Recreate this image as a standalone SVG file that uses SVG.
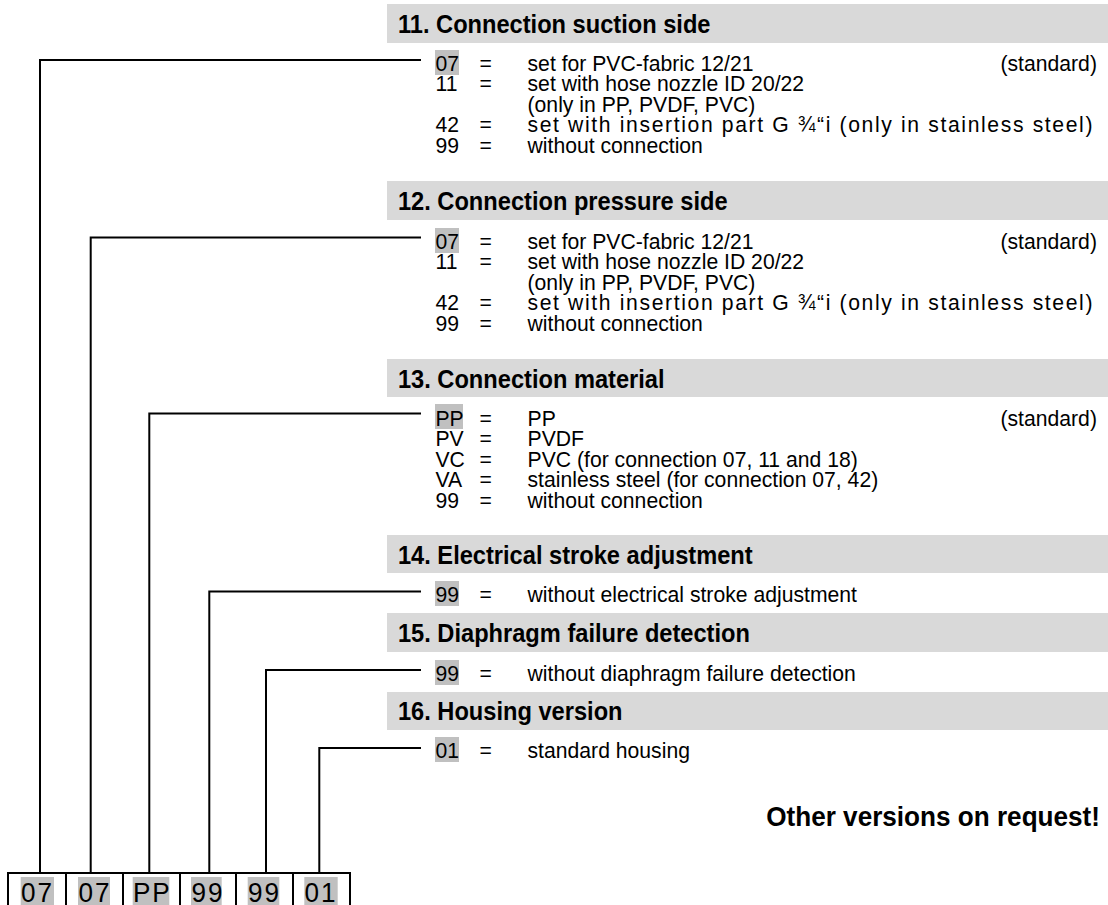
<svg xmlns="http://www.w3.org/2000/svg" width="1108" height="905" viewBox="0 0 1108 905">
<style>
text{font-family:"Liberation Sans",Arial,Helvetica,sans-serif;fill:#000}
.h{font-size:24.9px;font-weight:bold}
.t{font-size:22.3px}
.std{text-anchor:end}
.bar{fill:#d9d9d9}
.hl{fill:#c0c0c0}
.ln{fill:none;stroke:#000;stroke-width:2}
.code{font-size:27.5px;letter-spacing:2px}
.note{font-size:27.5px;font-weight:bold;text-anchor:end}
</style>
<rect width="1108" height="905" fill="#fff"/>

<g id="connectors" class="ln">
<path d="M421 60 H40 V873"/>
<path d="M421 237.5 H90.7 V873"/>
<path d="M421 413.5 H149.3 V873"/>
<path d="M421 591.5 H209.3 V873"/>
<path d="M421 670 H266 V873"/>
<path d="M421 748 H319.3 V873"/>
</g>

<g id="sec11">
<rect class="bar" x="387" y="4" width="721" height="39"/>
<rect class="hl" x="435" y="50" width="24" height="25"/>
<g transform="scale(0.95 1)">
<text class="h" x="418.9" y="33">11. Connection suction side</text>
<text class="t" x="458.4" y="71">07</text><text class="t" x="504.7" y="71">=</text><text class="t" x="555.3" y="71">set for PVC-fabric 12/21</text><text class="t std" x="1154.7" y="71">(standard)</text>
<text class="t" x="458.4" y="91.5">11</text><text class="t" x="504.7" y="91.5">=</text><text class="t" x="555.3" y="91.5">set with hose nozzle ID 20/22</text>
<text class="t" x="555.3" y="112">(only in PP, PVDF, PVC)</text>
<text class="t" x="458.4" y="132.5">42</text><text class="t" x="504.7" y="132.5">=</text><text class="t" x="555.3" y="132.5" textLength="594.7" lengthAdjust="spacing">set with insertion part G ¾“i (only in stainless steel)</text>
<text class="t" x="458.4" y="153">99</text><text class="t" x="504.7" y="153">=</text><text class="t" x="555.3" y="153">without connection</text>
</g>
</g>

<g id="sec12">
<rect class="bar" x="387" y="181" width="721" height="39"/>
<rect class="hl" x="435" y="228" width="24" height="25"/>
<g transform="scale(0.95 1)">
<text class="h" x="418.9" y="210">12. Connection pressure side</text>
<text class="t" x="458.4" y="249">07</text><text class="t" x="504.7" y="249">=</text><text class="t" x="555.3" y="249">set for PVC-fabric 12/21</text><text class="t std" x="1154.7" y="249">(standard)</text>
<text class="t" x="458.4" y="269.5">11</text><text class="t" x="504.7" y="269.5">=</text><text class="t" x="555.3" y="269.5">set with hose nozzle ID 20/22</text>
<text class="t" x="555.3" y="290">(only in PP, PVDF, PVC)</text>
<text class="t" x="458.4" y="310.5">42</text><text class="t" x="504.7" y="310.5">=</text><text class="t" x="555.3" y="310.5" textLength="594.7" lengthAdjust="spacing">set with insertion part G ¾“i (only in stainless steel)</text>
<text class="t" x="458.4" y="331">99</text><text class="t" x="504.7" y="331">=</text><text class="t" x="555.3" y="331">without connection</text>
</g>
</g>

<g id="sec13">
<rect class="bar" x="387" y="359" width="721" height="38"/>
<rect class="hl" x="435" y="404" width="28" height="25"/>
<g transform="scale(0.95 1)">
<text class="h" x="418.9" y="388">13. Connection material</text>
<text class="t" x="458.4" y="426">PP</text><text class="t" x="504.7" y="426">=</text><text class="t" x="555.3" y="426">PP</text><text class="t std" x="1154.7" y="426">(standard)</text>
<text class="t" x="458.4" y="446.5">PV</text><text class="t" x="504.7" y="446.5">=</text><text class="t" x="555.3" y="446.5">PVDF</text>
<text class="t" x="458.4" y="467">VC</text><text class="t" x="504.7" y="467">=</text><text class="t" x="555.3" y="467">PVC (for connection 07, 11 and 18)</text>
<text class="t" x="458.4" y="487.5">VA</text><text class="t" x="504.7" y="487.5">=</text><text class="t" x="555.3" y="487.5">stainless steel (for connection 07, 42)</text>
<text class="t" x="458.4" y="508">99</text><text class="t" x="504.7" y="508">=</text><text class="t" x="555.3" y="508">without connection</text>
</g>
</g>

<g id="sec14">
<rect class="bar" x="387" y="535" width="721" height="38"/>
<rect class="hl" x="435" y="581" width="24" height="25"/>
<g transform="scale(0.95 1)">
<text class="h" x="418.9" y="564">14. Electrical stroke adjustment</text>
<text class="t" x="458.4" y="602">99</text><text class="t" x="504.7" y="602">=</text><text class="t" x="555.3" y="602">without electrical stroke adjustment</text>
</g>
</g>

<g id="sec15">
<rect class="bar" x="387" y="613" width="721" height="39"/>
<rect class="hl" x="435" y="660" width="24" height="25"/>
<g transform="scale(0.95 1)">
<text class="h" x="418.9" y="642">15. Diaphragm failure detection</text>
<text class="t" x="458.4" y="681">99</text><text class="t" x="504.7" y="681">=</text><text class="t" x="555.3" y="681">without diaphragm failure detection</text>
</g>
</g>

<g id="sec16">
<rect class="bar" x="387" y="692" width="721" height="38"/>
<rect class="hl" x="435" y="737" width="24" height="25"/>
<g transform="scale(0.95 1)">
<text class="h" x="418.9" y="720">16. Housing version</text>
<text class="t" x="458.4" y="758">01</text><text class="t" x="504.7" y="758">=</text><text class="t" x="555.3" y="758">standard housing</text>
</g>
</g>

<g id="note">
<g transform="scale(0.95 1)">
<text class="note" x="1157.9" y="826">Other versions on request!</text>
</g>
</g>

<g id="codes">
<rect class="hl" x="20.7" y="877" width="33.3" height="30"/>
<rect class="hl" x="78" y="877" width="32" height="30"/>
<rect class="hl" x="132.7" y="877" width="36.6" height="30"/>
<rect class="hl" x="191" y="877" width="30.7" height="30"/>
<rect class="hl" x="247.7" y="877" width="31.6" height="30"/>
<rect class="hl" x="304.3" y="877" width="33.4" height="30"/>
<path class="ln" d="M8 906 V873 H350 V906 M66 873 V906 M123 873 V906 M180 873 V906 M236 873 V906 M293 873 V906"/>
<g transform="scale(0.95 1)">
<text class="code" x="22.1" y="902">07</text>
<text class="code" x="82.6" y="902">07</text>
<text class="code" x="140" y="902">PP</text>
<text class="code" x="201.6" y="902">99</text>
<text class="code" x="261.1" y="902">99</text>
<text class="code" x="320.5" y="902">01</text>
</g>
</g>
</svg>
